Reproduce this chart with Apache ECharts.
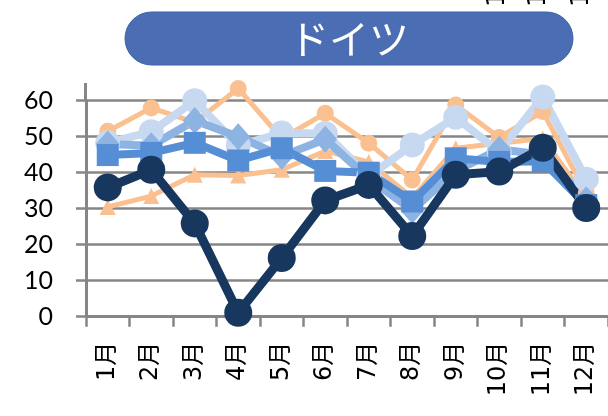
<!DOCTYPE html>
<html>
<head>
<meta charset="utf-8">
<script src="https://cdn.jsdelivr.net/npm/echarts@6/dist/echarts.min.js"></script>
<style>
html,body{margin:0;padding:0;background:#fff;}
#chart{width:608px;height:416px;}
</style>
</head>
<body>
<div id="chart"></div>
<script>
var months = ['1月','2月','3月','4月','5月','6月','7月','8月','9月','10月','11月','12月'];
var yTicks = [0, 10, 20, 30, 40, 50, 60];
var titleText = 'ドイツ';

var orangeCircle = [51.5, 58, 54, 63.4, 49.5, 56.5, 48.2, 38, 58.8, 49.8, 57, 34.3];
var orangeTriangle = [30.5, 33.5, 39.4, 39.2, 40.8, 46, 43, 33, 46.8, 48.2, 49.5, 33];
var lightCircle = [48.3, 51.4, 60, 47.5, 51, 50.9, 39, 47.7, 55.4, 45.8, 61, 38.2];
var midDiamond = [48, 47.5, 54.5, 50, 44.6, 49.3, 38.4, 29.6, 40.5, 46.5, 45, 32.5];
var blueSquare = [44.9, 45.5, 48.3, 43.4, 46.8, 40.5, 40, 32, 44, 43, 43.2, 31];
var navyCircle = [35.9, 40.8, 25.9, 1.1, 16.3, 32.3, 36.6, 22.4, 39.4, 40.3, 46.9, 30.2];

function mk(name, data, color, symbol, size, width) {
  return {
    name: name, type: 'line', data: data, symbol: symbol, symbolSize: size,
    clip: false, showAllSymbol: true,
    itemStyle: { color: color, borderWidth: 0 },
    lineStyle: { color: color, width: width },
    emphasis: { disabled: true }
  };
}

var chart = echarts.init(document.getElementById('chart'), null, { renderer: 'canvas' });
var gray = '#868686';
chart.setOption({
  animation: false,
  backgroundColor: '#ffffff',
  grid: { left: 86, right: -6, top: 100.7, bottom: 99.3, containLabel: false },
  xAxis: {
    type: 'category', data: months, boundaryGap: true,
    axisLine: { lineStyle: { color: gray, width: 3 } },
    axisTick: { show: true, length: 10, lineStyle: { color: gray, width: 2.5 } },
    axisLabel: { rotate: 90, margin: 25, fontSize: 24, color: '#000', fontFamily: '"DejaVu Sans", "Noto Sans CJK JP"', interval: 0 }
  },
  yAxis: {
    type: 'value', min: 0, max: 60, interval: 10,
    axisLine: { show: true, lineStyle: { color: gray, width: 3 } },
    axisTick: { show: true, length: 10, lineStyle: { color: gray, width: 2.5 } },
    splitLine: { show: true, lineStyle: { color: gray, width: 2.5 } },
    axisLabel: { margin: 33, fontSize: 25, color: '#000', fontFamily: 'Lato',
      formatter: function (v) { return yTicks.indexOf(v) >= 0 ? String(v) : ''; } }
  },
  graphic: [
    { type: 'line', shape: { x1: 85.5, y1: 83, x2: 85.5, y2: 101 }, style: { stroke: gray, lineWidth: 3 } },
    { type: 'rect', shape: { x: 125, y: 12, width: 448, height: 53, r: 26.5 },
      style: { fill: '#4a6db3', stroke: '#3f62a8', lineWidth: 1 } },
    { type: 'text', x: 349, y: 39, style: { text: titleText, fill: '#ffffff', font: '40px "Noto Sans CJK JP"', align: 'center', verticalAlign: 'middle' } },
    { type: 'text', x: 498, y: 7, rotation: Math.PI / 2, style: { text: '1', fill: '#000', font: '24px "DejaVu Sans"', align: 'left', verticalAlign: 'middle' } },
    { type: 'text', x: 539, y: 7, rotation: Math.PI / 2, style: { text: '1', fill: '#000', font: '24px "DejaVu Sans"', align: 'left', verticalAlign: 'middle' } },
    { type: 'text', x: 582, y: 7, rotation: Math.PI / 2, style: { text: '1', fill: '#000', font: '24px "DejaVu Sans"', align: 'left', verticalAlign: 'middle' } }
  ],
  series: [
    mk('A', orangeCircle, '#fac090', 'circle', 17, 5),
    mk('B', orangeTriangle, '#fac090', 'triangle', 16, 5),
    mk('C', lightCircle, '#c6d9f1', 'circle', 25, 8),
    mk('D', midDiamond, '#8db3e2', 'diamond', [24, 27], 8),
    mk('E', blueSquare, '#558ed5', 'rect', 22, 8),
    mk('F', navyCircle, '#17375e', 'circle', 28, 9)
  ]
});
</script>
</body>
</html>
